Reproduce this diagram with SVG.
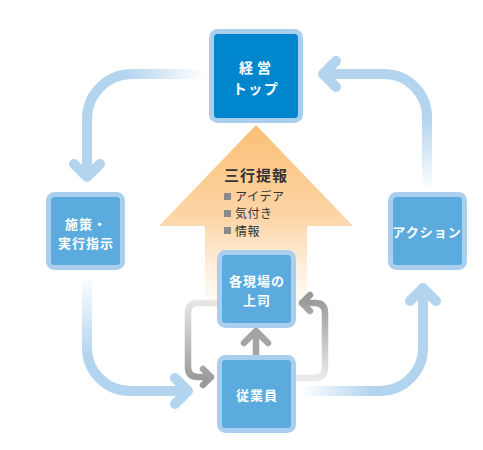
<svg xmlns="http://www.w3.org/2000/svg" width="483" height="450" viewBox="0 0 483 450">
<style>
.nb{stroke:#aacfee;stroke-width:5}
.nf{fill:#5babde}
.nt{fill:#ffffff;font-family:"Noto Sans CJK JP",sans-serif;font-weight:bold;font-size:13px;text-anchor:middle;letter-spacing:1px}
.bl{fill:none;stroke-width:10;stroke-linecap:round;stroke-linejoin:round}
.gr{fill:none;stroke-width:6.5;stroke-linecap:round;stroke-linejoin:round}
.lt{fill:#333333;font-family:"Noto Sans CJK JP",sans-serif;font-size:12px;letter-spacing:0.5px}
</style>
<defs>
<linearGradient id="og" gradientUnits="userSpaceOnUse" x1="0" y1="125" x2="0" y2="312">
<stop offset="0" stop-color="#fbbf76"/>
<stop offset="0.5" stop-color="#fcd6a8"/>
<stop offset="0.75" stop-color="#feeedc"/>
<stop offset="1" stop-color="#ffffff"/>
</linearGradient>
<linearGradient id="b1" gradientUnits="userSpaceOnUse" x1="205" y1="0" x2="125" y2="0">
<stop offset="0" stop-color="#ffffff"/>
<stop offset="1" stop-color="#b3d4ef"/>
</linearGradient>
<linearGradient id="b2" gradientUnits="userSpaceOnUse" x1="0" y1="276" x2="0" y2="355">
<stop offset="0" stop-color="#ffffff"/>
<stop offset="1" stop-color="#b3d4ef"/>
</linearGradient>
<linearGradient id="b3" gradientUnits="userSpaceOnUse" x1="300" y1="0" x2="372" y2="0">
<stop offset="0" stop-color="#ffffff"/>
<stop offset="1" stop-color="#b3d4ef"/>
</linearGradient>
<linearGradient id="b4" gradientUnits="userSpaceOnUse" x1="0" y1="190" x2="0" y2="118">
<stop offset="0" stop-color="#ffffff"/>
<stop offset="1" stop-color="#b3d4ef"/>
</linearGradient>
<linearGradient id="g1" gradientUnits="userSpaceOnUse" x1="0" y1="300" x2="0" y2="380">
<stop offset="0" stop-color="#e8e8e8"/>
<stop offset="1" stop-color="#9a9a9a"/>
</linearGradient>
<linearGradient id="g2" gradientUnits="userSpaceOnUse" x1="0" y1="380" x2="0" y2="300">
<stop offset="0" stop-color="#ececec"/>
<stop offset="1" stop-color="#9a9a9a"/>
</linearGradient>
</defs>

<g id="teigen-arrow">
<polygon points="256,125 353,226 307,226 307,315 205,315 205,226 159,226" fill="url(#og)"/>
<text x="224" y="181" style="fill:#333333;font-family:'Noto Sans CJK JP',sans-serif;font-weight:bold;font-size:15px;letter-spacing:1px">三行提報</text>
<rect x="224" y="193" width="7" height="7" fill="#8a8a8a"/>
<rect x="224" y="210" width="7" height="7" fill="#8a8a8a"/>
<rect x="224" y="227" width="7" height="7" fill="#8a8a8a"/>
<text class="lt"><tspan x="235" y="200.5">アイデア</tspan><tspan x="235" y="218">気付き</tspan><tspan x="235" y="235.5">情報</tspan></text>
</g>

<g id="connectors">
<path class="bl" stroke="url(#b1)" d="M205 74 H132 A45 45 0 0 0 87 119 V177 M74 164 L87 177 L100 164"/>
<path class="bl" stroke="url(#b2)" d="M87 277 V348 A43 43 0 0 0 130 391 H188 M175 378 L188 391 L175 404"/>
<path class="bl" stroke="url(#b3)" d="M300 391 H380 A43 43 0 0 0 423 348 V288 M410 301 L423 288 L436 301"/>
<path class="bl" stroke="url(#b4)" d="M427 190 V117 A43 43 0 0 0 384 74 H323 M336 61 L323 74 L336 87"/>
<path class="gr" stroke="url(#g1)" d="M216 303 H198 Q188 303 188 313 V367 Q188 377 198 377 H211 M203 369 L211 377 L203 385"/>
<path class="gr" stroke="url(#g2)" d="M297 378 H315 Q325 378 325 368 V313 Q325 303 315 303 H302 M310 295 L302 303 L310 311"/>
<path class="gr" stroke="#a4a4a4" d="M256 354 V332 M244 343 L256 331 L268 343"/>
</g>

<g id="node-top">
<rect x="211.5" y="31.5" width="89" height="89" rx="6" class="nb" fill="#0086cd"/>
<text class="nt" style="font-size:14px"><tspan x="257" y="73" style="letter-spacing:4px">経営</tspan><tspan x="256" y="93.5" style="letter-spacing:1.5px">トップ</tspan></text>
</g>

<g id="node-left">
<rect x="48.5" y="194.5" width="74" height="73" rx="6" class="nb nf"/>
<text class="nt"><tspan x="86" y="229">施策・</tspan><tspan x="86" y="248">実行指示</tspan></text>
</g>

<g id="node-right">
<rect x="390.5" y="194.5" width="74" height="73" rx="6" class="nb nf"/>
<text x="427" y="237" class="nt">アクション</text>
</g>

<g id="node-joshi">
<rect x="219.5" y="252.5" width="74" height="73" rx="6" class="nb nf"/>
<text class="nt"><tspan x="257" y="286">各現場の</tspan><tspan x="257" y="305">上司</tspan></text>
</g>

<g id="node-jugyoin">
<rect x="219.5" y="357.5" width="74" height="73" rx="6" class="nb nf"/>
<text x="257" y="400" class="nt">従業員</text>
</g>
</svg>
